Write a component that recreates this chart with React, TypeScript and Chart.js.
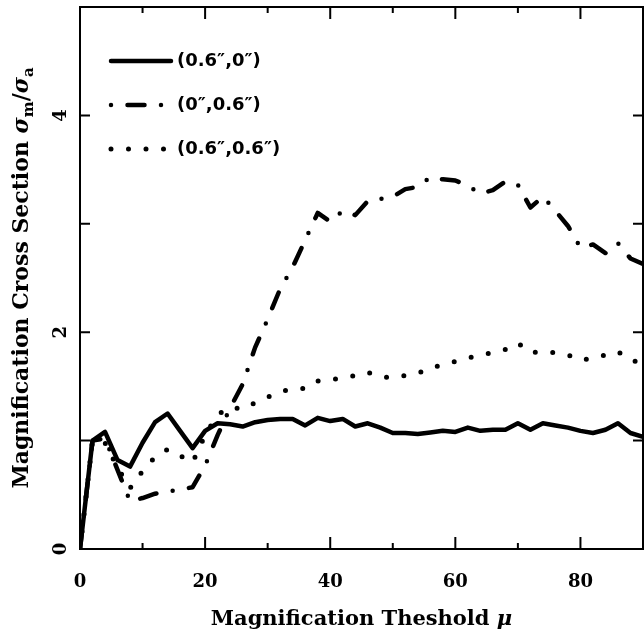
import { useEffect, useRef } from 'react';
import { Chart, registerables } from 'chart.js';

Chart.register(...registerables);

const thresholds = [0, 2, 4, 6, 8, 10, 12, 14, 16, 18, 20, 22, 24, 26, 28, 30, 32, 34, 36, 38, 40, 42, 44, 46, 48, 50, 52, 54, 56, 58, 60, 62, 64, 66, 68, 70, 72, 74, 76, 78, 80, 82, 84, 86, 88, 90];

const seriesLabels = ['(0.6\u2033,0\u2033)', '(0\u2033,0.6\u2033)', '(0.6\u2033,0.6\u2033)'];

const solidValues = [0, 1.0, 1.08, 0.82, 0.76, 0.98, 1.17, 1.25, 1.09, 0.93, 1.09, 1.16, 1.15, 1.13, 1.17, 1.19, 1.2, 1.2, 1.14, 1.21, 1.18, 1.2, 1.13, 1.16, 1.12, 1.07, 1.07, 1.06, 1.075, 1.09, 1.08, 1.12, 1.09, 1.1, 1.1, 1.16, 1.1, 1.16, 1.14, 1.12, 1.09, 1.07, 1.1, 1.16, 1.07, 1.035];

const dashDotValues = [0, 1.0, 1.02, 0.73, 0.44, 0.47, 0.51, 0.53, 0.55, 0.57, 0.77, 1.05, 1.3, 1.52, 1.86, 2.12, 2.4, 2.6, 2.85, 3.1, 3.02, 3.12, 3.08, 3.21, 3.23, 3.25, 3.32, 3.34, 3.43, 3.41, 3.4, 3.35, 3.28, 3.31, 3.39, 3.36, 3.15, 3.25, 3.12, 2.98, 2.78, 2.81, 2.73, 2.82, 2.68, 2.63];

const dottedValues = [0, 1.0, 0.98, 0.75, 0.56, 0.72, 0.85, 0.92, 0.86, 0.8, 1.05, 1.24, 1.31, 1.29, 1.35, 1.4, 1.45, 1.48, 1.48, 1.55, 1.56, 1.58, 1.6, 1.63, 1.59, 1.58, 1.6, 1.62, 1.67, 1.7, 1.73, 1.76, 1.79, 1.81, 1.84, 1.9, 1.81, 1.82, 1.81, 1.79, 1.74, 1.76, 1.79, 1.82, 1.74, 1.72];

const xTickLabels = ['0', '20', '40', '60', '80'];
const yTickLabels = ['0', '2', '4'];
const xTitleText = 'Magnification Theshold ';
const xTitleSymbol = '\u03BC';
const yTitleText = 'Magnification Cross Section ';

const AXIS_FONT = '"DejaVu Serif", serif';
const LEGEND_FONT = '"DejaVu Sans", sans-serif';

const decorPlugin = {
  id: 'decor',
  beforeDraw(chart: any) {
    const ctx = chart.ctx;
    ctx.save();
    ctx.fillStyle = '#ffffff';
    ctx.fillRect(0, 0, chart.width, chart.height);
    ctx.restore();
  },
  afterDatasetsDraw(chart: any) {
    const ctx = chart.ctx;
    const area = chart.chartArea;
    const xs = chart.scales.x;
    const ys = chart.scales.y;
    ctx.save();
    ctx.strokeStyle = '#000';
    ctx.fillStyle = '#000';
    ctx.lineWidth = 2;
    ctx.setLineDash([]);
    ctx.strokeRect(area.left, area.top, area.right - area.left, area.bottom - area.top);

    for (let v = 0; v <= 90; v += 10) {
      const px = xs.getPixelForValue(v);
      const len = v % 20 === 0 ? 12 : 6;
      ctx.beginPath();
      ctx.moveTo(px, area.bottom);
      ctx.lineTo(px, area.bottom - len);
      ctx.moveTo(px, area.top);
      ctx.lineTo(px, area.top + len);
      ctx.stroke();
    }
    for (let v = 0; v <= 5; v += 1) {
      const py = ys.getPixelForValue(v);
      const len = 10;
      ctx.beginPath();
      ctx.moveTo(area.left, py);
      ctx.lineTo(area.left + len, py);
      ctx.moveTo(area.right, py);
      ctx.lineTo(area.right - len, py);
      ctx.stroke();
    }

    ctx.font = 'bold 18px ' + AXIS_FONT;
    ctx.textAlign = 'center';
    ctx.textBaseline = 'middle';
    yTickLabels.forEach((t) => {
      const py = ys.getPixelForValue(Number(t));
      ctx.save();
      ctx.translate(area.left - 19, py);
      ctx.rotate(-Math.PI / 2);
      ctx.fillText(t, 0, 0);
      ctx.restore();
    });

    const cx = (area.left + area.right) / 2;
    ctx.font = 'bold 21px ' + AXIS_FONT;
    const w1 = ctx.measureText(xTitleText).width;
    ctx.font = 'italic bold 21px ' + AXIS_FONT;
    const w2 = ctx.measureText(xTitleSymbol).width;
    const sx = cx - (w1 + w2) / 2;
    ctx.textAlign = 'left';
    ctx.textBaseline = 'alphabetic';
    ctx.font = 'bold 21px ' + AXIS_FONT;
    ctx.fillText(xTitleText, sx, 625);
    ctx.font = 'italic bold 21px ' + AXIS_FONT;
    ctx.fillText(xTitleSymbol, sx + w1, 625);

    const cy = (area.top + area.bottom) / 2;
    ctx.save();
    ctx.translate(28, cy);
    ctx.rotate(-Math.PI / 2);
    const big = 'bold 22px ' + AXIS_FONT;
    const sig = 'italic bold 22px ' + AXIS_FONT;
    const sub = 'bold 15px ' + AXIS_FONT;
    const parts: [string, string, number][] = [
      [yTitleText, big, 0],
      ['\u03C3', sig, 0],
      ['m', sub, 5],
      ['/', big, 0],
      ['\u03C3', sig, 0],
      ['a', sub, 5],
    ];
    let total = 0;
    parts.forEach(([s, f]) => { ctx.font = f; total += ctx.measureText(s).width; });
    let px0 = -total / 2;
    parts.forEach(([s, f, dy]) => {
      ctx.font = f;
      ctx.fillText(s, px0, dy);
      px0 += ctx.measureText(s).width;
    });
    ctx.restore();

    const dsets = chart.data.datasets;
    dsets.forEach((ds: any, i: number) => {
      const ly = area.top + 54 + 44 * i;
      const x0 = area.left + 31;
      const x1 = area.left + 91;
      ctx.save();
      ctx.lineWidth = ds.borderWidth;
      ctx.lineCap = 'round';
      ctx.setLineDash(ds.borderDash || []);
      ctx.lineDashOffset = ds.legendDashOffset || 0;
      ctx.beginPath();
      ctx.moveTo(x0, ly);
      ctx.lineTo(x1, ly);
      ctx.stroke();
      ctx.restore();
      ctx.font = 'bold 18px ' + LEGEND_FONT;
      ctx.textAlign = 'left';
      ctx.textBaseline = 'middle';
      ctx.fillText(ds.label, area.left + 97, ly);
    });
    ctx.restore();
  },
};

export default function App() {
  const ref = useRef<HTMLCanvasElement | null>(null);
  useEffect(() => {
    document.body.style.margin = '0';
    const canvas = ref.current;
    if (!canvas) return;
    const chart = new Chart(canvas, {
      type: 'line',
      data: {
        labels: thresholds,
        datasets: [
          {
            label: seriesLabels[0],
            data: thresholds.map((x, i) => ({ x, y: solidValues[i] })),
            borderColor: '#000',
            borderWidth: 4.5,
            borderCapStyle: 'round',
            borderJoinStyle: 'round',
            pointRadius: 0,
            tension: 0,
            fill: false,
          } as any,
          {
            label: seriesLabels[1],
            data: thresholds.map((x, i) => ({ x, y: dashDotValues[i] })),
            borderColor: '#000',
            borderWidth: 4.5,
            borderDash: [17, 16.5, 0, 16.5],
            legendDashOffset: 33.5,
            borderCapStyle: 'round',
            borderJoinStyle: 'round',
            pointRadius: 0,
            tension: 0,
            fill: false,
          } as any,
          {
            label: seriesLabels[2],
            data: thresholds.map((x, i) => ({ x, y: dottedValues[i] })),
            borderColor: '#000',
            borderWidth: 5,
            borderDash: [0, 17.5],
            borderCapStyle: 'round',
            borderJoinStyle: 'round',
            pointRadius: 0,
            tension: 0,
            fill: false,
          } as any,
        ],
      },
      options: {
        animation: false,
        responsive: false,
        maintainAspectRatio: false,
        devicePixelRatio: 1,
        layout: { autoPadding: false, padding: { top: 7, right: 1, left: 0, bottom: 0 } },
        plugins: {
          legend: { display: false },
          tooltip: { enabled: false },
          title: { display: false },
        },
        scales: {
          x: {
            type: 'linear',
            min: 0,
            max: 90,
            grid: { display: false },
            border: { display: false },
            ticks: {
              stepSize: 10,
              autoSkip: false,
              maxRotation: 0,
              minRotation: 0,
              padding: 15,
              color: '#000',
              font: { family: AXIS_FONT, size: 18, weight: 'bold' },
              callback: (v: any) => (xTickLabels.includes(String(v)) ? String(v) : ''),
            },
            afterFit: (s: any) => {
              s.height = 87;
              s.paddingLeft = 0;
              s.paddingRight = 0;
              s.paddingTop = 0;
              s.paddingBottom = 0;
            },
          },
          y: {
            type: 'linear',
            min: 0,
            max: 5,
            grid: { display: false },
            border: { display: false },
            ticks: { display: false, stepSize: 1 },
            afterFit: (s: any) => {
              s.width = 80;
              s.paddingLeft = 0;
              s.paddingRight = 0;
              s.paddingTop = 0;
              s.paddingBottom = 0;
            },
          },
        },
      } as any,
      plugins: [decorPlugin],
    });
    return () => chart.destroy();
  }, []);
  return (
    <div style={{ position: 'absolute', left: 0, top: 0, width: 644, height: 636 }}>
      <canvas ref={ref} width={644} height={636} style={{ width: 644, height: 636, display: 'block' }} />
    </div>
  );
}
